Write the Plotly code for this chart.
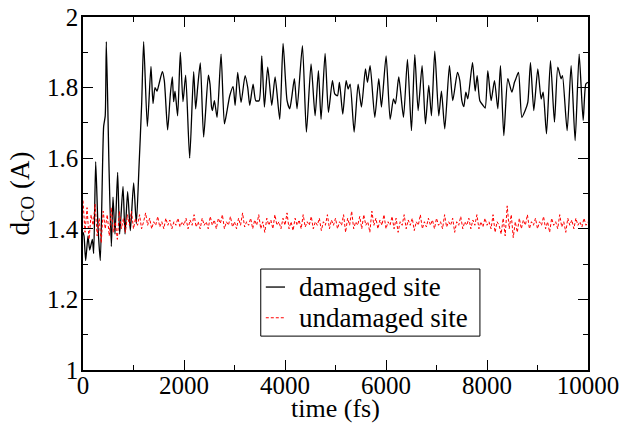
import plotly.graph_objects as go

# damaged site (black)
t_dam = [0, 20, 53, 99, 132, 185, 211, 251, 297, 343, 409, 440, 462, 515, 561, 594, 634, 686, 726, 792,
         832, 884, 937, 1003, 1056, 1109, 1162, 1201, 1274, 1346, 1386, 1426, 1465, 1505, 1571, 1610, 1676,
         1729, 1769, 1795, 1822, 1874, 1927, 1980, 2033, 2112, 2191, 2231, 2270, 2323, 2389, 2482, 2515,
         2545, 2563, 2602, 2655, 2734, 2800, 2853, 2906, 2972, 3012, 3064, 3130, 3210, 3262, 3302, 3368,
         3421, 3487, 3540, 3592, 3658, 3738, 3804, 3896, 3962, 4041, 4094, 4134, 4186, 4239, 4345, 4424,
         4516, 4596, 4662, 4714, 4794, 4860, 4939, 4986, 5039, 5078, 5144, 5210, 5250, 5290, 5369, 5448,
         5514, 5593, 5633, 5686, 5778, 5857, 5910, 6002, 6082, 6148, 6187, 6253, 6346, 6425, 6504, 6570,
         6636, 6715, 6781, 6847, 6900, 6966, 7045, 7098, 7164, 7256, 7322, 7415, 7462, 7502, 7541, 7581,
         7620, 7713, 7766, 7805, 7858, 7924, 7964, 8016, 8082, 8148, 8214, 8267, 8333, 8412, 8492, 8544,
         8571, 8624, 8690, 8756, 8808, 8861, 8927, 9006, 9072, 9112, 9178, 9257, 9336, 9402, 9468, 9495,
         9587, 9666, 9745, 9825, 9904, 9957, 10000]
v_dam = [1.39, 1.38, 1.31, 1.38, 1.34, 1.37, 1.33, 1.59, 1.405, 1.31, 1.69, 1.72, 1.93, 1.575, 1.35, 1.49,
         1.385, 1.56, 1.385, 1.52, 1.385, 1.505, 1.395, 1.53, 1.415, 1.575, 1.755, 1.93, 1.69, 1.86, 1.755,
         1.80, 1.79, 1.81, 1.845, 1.82, 1.68, 1.78, 1.83, 1.76, 1.79, 1.72, 1.90, 1.76, 1.835, 1.60, 1.845,
         1.74, 1.80, 1.87, 1.66, 1.835, 1.81, 1.745, 1.735, 1.763, 1.716, 1.895, 1.697, 1.735, 1.777, 1.803,
         1.75, 1.843, 1.758, 1.834, 1.80, 1.75, 1.81, 1.763, 1.763, 1.89, 1.745, 1.858, 1.75, 1.83, 1.71,
         1.925, 1.763, 1.74, 1.773, 1.825, 1.74, 1.919, 1.674, 1.867, 1.72, 1.848, 1.71, 1.897, 1.73, 1.82,
         1.782, 1.777, 1.815, 1.725, 1.82, 1.796, 1.81, 1.674, 1.81, 1.745, 1.853, 1.815, 1.862, 1.716,
         1.825, 1.745, 1.89, 1.71, 1.768, 1.754, 1.83, 1.716, 1.88, 1.678, 1.893, 1.735, 1.862, 1.697,
         1.806, 1.72, 1.903, 1.72, 1.79, 1.683, 1.862, 1.763, 1.843, 1.82, 1.763, 1.746, 1.787, 1.768,
         1.871, 1.79, 1.834, 1.763, 1.749, 1.742, 1.848, 1.763, 1.82, 1.74, 1.862, 1.664, 1.825, 1.787,
         1.815, 1.825, 1.843, 1.716, 1.735, 1.758, 1.871, 1.735, 1.853, 1.768, 1.787, 1.669, 1.876, 1.702,
         1.858, 1.825, 1.834, 1.678, 1.862, 1.65, 1.895, 1.707, 1.81, 1.815]

# undamaged site (red dashed), sampled every 40 fs
t_und = list(range(0, 10001, 40))
v_und = [
    1.48, 1.39, 1.46, 1.37, 1.44, 1.41, 1.47, 1.38, 1.43, 1.36, 1.45, 1.40, 1.44, 1.38, 1.46, 1.39, 1.42, 1.37, 1.45, 1.40, 1.43, 1.39, 1.44, 1.41, 1.45,
    1.40, 1.43, 1.41, 1.44, 1.40, 1.42, 1.445, 1.41, 1.43, 1.40, 1.42, 1.41, 1.435, 1.405, 1.42, 1.40, 1.43, 1.41, 1.425, 1.40, 1.42, 1.41, 1.43, 1.405, 1.42,
    1.41, 1.43, 1.40, 1.425, 1.41, 1.44, 1.405, 1.42, 1.40, 1.43, 1.41, 1.42, 1.40, 1.435, 1.41, 1.425, 1.40, 1.43, 1.415, 1.44, 1.40, 1.42, 1.41, 1.435, 1.405,
    1.42, 1.40, 1.43, 1.41, 1.445, 1.405, 1.42, 1.41, 1.43, 1.40, 1.425, 1.41, 1.44, 1.40, 1.42, 1.39, 1.43, 1.41, 1.425, 1.40, 1.44, 1.41, 1.42, 1.40, 1.43,
    1.41, 1.445, 1.40, 1.42, 1.395, 1.43, 1.41, 1.425, 1.40, 1.44, 1.405, 1.42, 1.41, 1.435, 1.40, 1.42, 1.41, 1.43, 1.395, 1.42, 1.41, 1.44, 1.40, 1.425, 1.41,
    1.43, 1.40, 1.42, 1.41, 1.44, 1.39, 1.43, 1.41, 1.45, 1.40, 1.42, 1.41, 1.435, 1.40, 1.44, 1.41, 1.42, 1.39, 1.45, 1.41, 1.43, 1.40, 1.425, 1.41, 1.44,
    1.40, 1.42, 1.41, 1.435, 1.40, 1.43, 1.39, 1.42, 1.41, 1.44, 1.40, 1.425, 1.41, 1.43, 1.395, 1.42, 1.41, 1.44, 1.40, 1.42, 1.405, 1.43, 1.41, 1.425, 1.40,
    1.43, 1.41, 1.42, 1.40, 1.44, 1.405, 1.42, 1.41, 1.43, 1.39, 1.42, 1.41, 1.435, 1.40, 1.42, 1.41, 1.43, 1.40, 1.425, 1.41, 1.44, 1.40, 1.42, 1.405, 1.43,
    1.41, 1.42, 1.40, 1.44, 1.39, 1.42, 1.41, 1.385, 1.43, 1.38, 1.465, 1.40, 1.44, 1.375, 1.42, 1.39, 1.43, 1.40, 1.425, 1.41, 1.44, 1.40, 1.42, 1.41, 1.43,
    1.40, 1.42, 1.41, 1.435, 1.40, 1.42, 1.39, 1.43, 1.41, 1.42, 1.40, 1.44, 1.405, 1.42, 1.39, 1.43, 1.41, 1.425, 1.40, 1.43, 1.41, 1.42, 1.405, 1.43, 1.41,
    1.42,
]

series_names = ["damaged site", "undamaged site"]
x_ticks = [0, 2000, 4000, 6000, 8000, 10000]
x_ticklabels = ["0", "2000", "4000", "6000", "8000", "10000"]
y_ticks = [1.0, 1.2, 1.4, 1.6, 1.8, 2.0]
y_ticklabels = ["1", "1.2", "1.4", "1.6", "1.8", "2"]

FONT = "Liberation Serif"
TICK_FS = 25
TITLE_FS = 26
LEG_FS = 27

fig = go.Figure()
fig.add_trace(go.Scatter(x=t_dam, y=v_dam, mode="lines", name=series_names[0],
                         line=dict(color="black", width=1.3, shape="spline", smoothing=0.6)))
fig.add_trace(go.Scatter(x=t_und, y=v_und, mode="lines", name=series_names[1],
                         line=dict(color="red", width=1, dash="3px,2px")))

axis_common = dict(showline=True, linecolor="black", linewidth=1.5, mirror="ticks",
                   ticks="inside", ticklen=10, tickwidth=1.2, tickcolor="black",
                   showgrid=False, zeroline=False, automargin=False,
                   tickfont=dict(family=FONT, size=TICK_FS, color="black"))

fig.update_xaxes(range=[0, 10000], tickmode="array", tickvals=x_ticks, ticktext=x_ticklabels,
                 ticklabelstandoff=-8,
                 minor=dict(ticks="inside", ticklen=5, dtick=1000, tick0=0, tickcolor="black", tickwidth=1.2),
                 title=dict(text="time (fs)", font=dict(family=FONT, size=TITLE_FS, color="black"), standoff=2),
                 **axis_common)
fig.update_yaxes(range=[1, 2], tickmode="array", tickvals=y_ticks, ticktext=y_ticklabels,
                 ticklabelstandoff=-2,
                 minor=dict(ticks="inside", ticklen=5, dtick=0.1, tick0=1, tickcolor="black", tickwidth=1.2),
                 title=dict(text="d<sub>CO</sub> (A)", font=dict(family=FONT, size=27, color="black"), standoff=10),
                 **axis_common)

# legend box drawn in paper coordinates (compact, like the reference)
fig.add_shape(type="rect", xref="paper", yref="paper", x0=0.352, x1=0.786, y0=0.096, y1=0.286,
              line=dict(color="black", width=1), fillcolor="white", layer="above")
fig.add_shape(type="line", xref="paper", yref="paper", x0=0.362, x1=0.400, y0=0.235, y1=0.235,
              line=dict(color="black", width=1.3), layer="above")
fig.add_shape(type="line", xref="paper", yref="paper", x0=0.362, x1=0.400, y0=0.148, y1=0.148,
              line=dict(color="red", width=1, dash="3px,2px"), layer="above")
for name, yy in zip(series_names, [0.235, 0.148]):
    fig.add_annotation(xref="paper", yref="paper", x=0.423, y=yy, xanchor="left", yanchor="middle",
                       showarrow=False, text=name, font=dict(family=FONT, size=LEG_FS, color="black"))

fig.update_layout(
    width=626, height=423,
    margin=dict(l=83, r=38, t=17, b=53),
    paper_bgcolor="white", plot_bgcolor="white",
    font=dict(family=FONT, size=TICK_FS, color="black"),
    showlegend=False,
)

fig.write_html("out.html", config={"displayModeBar": False},
               post_script="document.body.style.margin='0';")
